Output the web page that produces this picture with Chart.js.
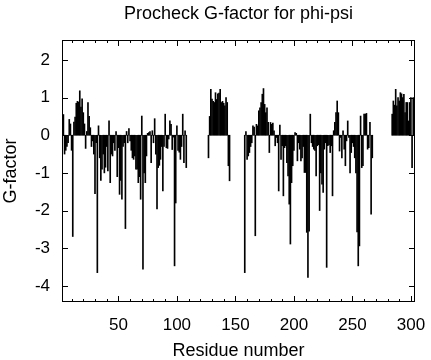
<!DOCTYPE html>
<html>
<head>
<meta charset="utf-8">
<script src="https://cdn.jsdelivr.net/npm/chart.js@4"></script>
<style>
  body { margin: 0; background: #fff; }
  #wrap { width: 431px; height: 360px; }
</style>
</head>
<body>
<div id="wrap"><canvas id="gfactor_chart"></canvas></div>
<script>
// G-factor per residue, split into the runs that have values
const segAStart = 1;
const segA = [
  0.1, 0.3, 0.55, -0.5, -0.4, -0.3, -0.2, 0.42, 0.3, -0.4,
  -2.69, 0.35, 0.48, 0.85, 0.9, 0.88, 1.18, 0.75, 0.97, 0.6,
  0.3, -0.35, 0.1, 0.87, 0.5, 0.2, -0.3, -0.15, -0.5, -1.55,
  -0.2, -3.65, 0.25, -0.6, -1.2, -0.9, -0.5, -1.0, -0.85, -0.3,
  -0.95, 0.38, -1.26, -0.5, -0.55, -0.2, -0.4, 0.1, -1.1, -0.33,
  -1.57, -1.2, -1.7, -0.3, -0.2, -2.48, 0.1, -0.2, 0.18, -0.15,
  -0.4, -0.6, -0.64, -0.55, -0.9, -0.9, -1.26, -1.1, -1.7, 0.51,
  -3.56, -1.0, -1.26, -0.55, 0.05, 0.07, 0.1, -0.73, 0.12, -0.2,
  0.44, -0.5, -1.96, -0.86, -0.8, -0.64, -0.3, -1.48, -0.3, 0.56,
  -0.33, -0.35, -0.1, 0.38, 0.29, -0.38, -0.05, -3.47, -1.8, 0.25,
  -0.4, -0.45, -0.64, -0.3, 0.56, -0.73, 0.12, -0.86
];
const segBStart = 127;
const segB = [
  -0.6, 0.5, 1.22, 0.96, 0.9, 0.87, 1.13, 0.95, 1.1, 1.12,
  1.22, 0.87, 0.9, 0.85, 0.78, 1.0, 0.87, -0.81, -1.21
];
const segCStart = 158;
const segC = [
  -3.65, 0.1, -0.64, -0.55, -0.46, -0.3, -0.2, 0.25, 0.22, -2.67,
  0.29, 0.25, 0.65, 0.73, 0.87, 1.09, 1.24, 0.82, 0.6, 0.73,
  0.34, -0.46, 0.34, 0.29, 0.32, 0.12, -0.28, -0.06, -0.2, -1.48,
  0.27, -0.64, -0.28, -1.61, -0.33, -0.28, -0.73, -1.08, -1.83, -2.89,
  -1.26, -0.81, -0.4, 0.07, 0.05, -0.68, -0.2, -0.37, -0.68, -0.6,
  -0.3, -0.99, -0.99, -2.58, -3.78, -2.55, 0.56, -0.2, -0.3, -0.37,
  -0.4, -1.08, -0.28, -0.25, -2.0, -1.0, -1.3, -1.52, -0.37, -0.2,
  -3.51, -0.28, -0.25, -0.46, -0.28, -1.61, 0.12, 0.34, 0.6, 0.91,
  0.6, -0.42, -0.06, -0.6, 0.12, -0.37, -0.81, -0.15, 0.38, -0.06,
  -1.0, -0.46, -0.2, -0.3, -0.6, -1.0, -2.57, -3.47, -2.94, 0.51,
  -0.86, -0.81, 0.56, 0.56, 0.58, -0.37, -0.33, 0.34, -2.1, -0.6
];
const segDStart = 284;
const segD = [
  0.56, 0.91, 0.8, 1.22, 0.78, 1.0, 0.91, 1.13, 1.1, 1.0,
  1.09, 0.6, 0.87, 0.87, 0.38, 0.87, 1.0, -0.86, 1.0
];

const xTickValues = [10, 20, 30, 40, 50, 60, 70, 80, 90, 100, 110, 120, 130, 140, 150,
  160, 170, 180, 190, 200, 210, 220, 230, 240, 250, 260, 270, 280, 290, 300];
const yTickValues = [-4, -3, -2, -1, 0, 1, 2];

var points = [];
[[segAStart, segA], [segBStart, segB], [segCStart, segC], [segDStart, segD]].forEach(function (s) {
  s[1].forEach(function (v, i) {
    points.push({ x: s[0] + i, y: v });
  });
});

Chart.defaults.font.family = '"Liberation Sans", Arial, Helvetica, sans-serif';
Chart.defaults.color = '#000';

// gnuplot style: closed frame, ticks pointing inwards on all four sides
const frameTicks = {
  id: 'frameTicks',
  afterDatasetsDraw(chart) {
    const { ctx, chartArea: a, scales: { x, y } } = chart;
    ctx.save();
    ctx.strokeStyle = '#000';
    ctx.lineWidth = 1;
    ctx.strokeRect(a.left + 0.5, a.top + 0.5, a.right - a.left - 1, a.bottom - a.top - 1);
    ctx.beginPath();
    x.ticks.forEach(function (t) {
      const px = Math.round(x.getPixelForValue(t.value)) + 0.5;
      const len = t.value % 50 === 0 ? 6 : 3;
      ctx.moveTo(px, a.bottom); ctx.lineTo(px, a.bottom - len);
      ctx.moveTo(px, a.top); ctx.lineTo(px, a.top + len);
    });
    y.ticks.forEach(function (t) {
      const py = Math.round(y.getPixelForValue(t.value)) + 0.5;
      ctx.moveTo(a.left, py); ctx.lineTo(a.left + 6, py);
      ctx.moveTo(a.right, py); ctx.lineTo(a.right - 6, py);
    });
    ctx.stroke();
    ctx.restore();
  }
};

const ctx = document.getElementById('gfactor_chart');
new Chart(ctx, {
  type: 'bar',
  data: {
    datasets: [{
      data: points,
      backgroundColor: '#000',
      borderWidth: 0,
      barThickness: 1
    }]
  },
  options: {
    responsive: true,
    maintainAspectRatio: false,
    devicePixelRatio: 1,
    animation: false,
    layout: { padding: { left: 0, right: 16, top: 0, bottom: 0 } },
    plugins: {
      legend: { display: false },
      tooltip: { enabled: false },
      title: {
        display: true,
        fullSize: false,
        text: 'Procheck G-factor for phi-psi',
        font: { size: 18, weight: 'normal' },
        padding: { top: 3.2, bottom: 15.2 }
      }
    },
    scales: {
      x: {
        type: 'linear',
        offset: false,
        min: 1.8,
        max: 303.5,
        grid: { display: false, drawTicks: false },
        border: { display: false },
        afterBuildTicks: function (scale) {
          scale.ticks = xTickValues.map(function (v) { return { value: v }; });
        },
        afterFit: function (scale) {
          scale.height = 58;
          scale.paddingLeft = 0;
          scale.paddingRight = 0;
        },
        ticks: {
          autoSkip: false,
          maxRotation: 0,
          padding: 13,
          font: { size: 17 },
          callback: function (v) { return v % 50 === 0 ? v : ''; }
        },
        title: {
          display: true,
          text: 'Residue number',
          font: { size: 18 },
          padding: { top: 0, bottom: -2 }
        }
      },
      y: {
        min: -4.43,
        max: 2.53,
        grid: { display: false, drawTicks: false },
        border: { display: false },
        afterBuildTicks: function (scale) {
          scale.ticks = yTickValues.map(function (v) { return { value: v }; });
        },
        afterFit: function (scale) {
          scale.width = 62;
          scale.paddingTop = 0;
          scale.paddingBottom = 0;
        },
        ticks: {
          padding: 12,
          font: { size: 17 }
        },
        title: {
          display: true,
          text: 'G-factor',
          font: { size: 18 },
          padding: { top: 0, bottom: 0 }
        }
      }
    }
  },
  plugins: [frameTicks]
});
</script>
</body>
</html>
